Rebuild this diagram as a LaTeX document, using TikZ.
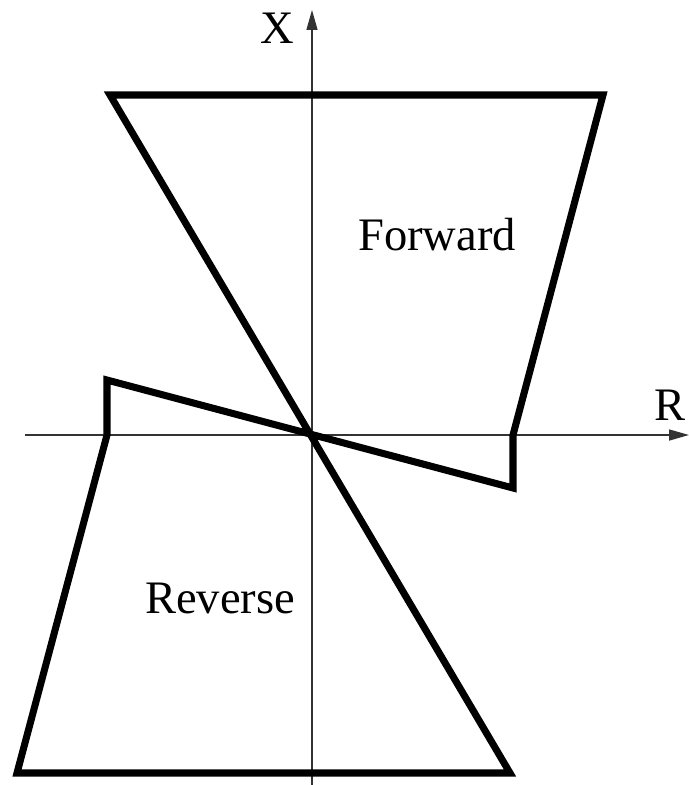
\documentclass[tikz,border=0pt]{standalone}
\usepackage{fontspec}
\setmainfont{Liberation Serif}
\usetikzlibrary{arrows.meta}
\tikzset{
  axisline/.style={line width=0.85pt, black!80, -{Triangle[length=0.4cm, width=0.22cm]}},
  regionline/.style={line width=4pt, black},
  regionlabel/.style={font=\fontsize{26.5}{30}\selectfont, inner sep=0pt},
}
\begin{document}
\begin{tikzpicture}[x=0.02cm, y=-0.02cm]
    \useasboundingbox (0,0) rectangle (689,785);

    % Axes
    \coordinate (origin) at (312,435);
    \coordinate (xbot)   at (312,785);
    \coordinate (xtop)   at (312,10);
    \coordinate (rleft)  at (25,435);
    \coordinate (rright) at (689,435);
    \draw[axisline] (xbot)  -- (xtop);
    \draw[axisline] (rleft) -- (rright);
    \node[regionlabel] (xlabel) at (277,28)  {X};
    \node[regionlabel] (rlabel) at (670,405) {R};

    % Corners of the outline
    \coordinate (topleft)  at (110,95);
    \coordinate (topright) at (603,95);
    \coordinate (fwdaxis)  at (513,435);
    \coordinate (fwdlow)   at (513,488);
    \coordinate (revhigh)  at (107,380);
    \coordinate (revaxis)  at (107,435);
    \coordinate (botleft)  at (17,773);
    \coordinate (botright) at (510,773);

    % Forward and reverse regions, one closed outline through the origin
    \draw[regionline] (topleft) -- (topright) -- (fwdaxis) -- (fwdlow)
        -- (revhigh) -- (revaxis) -- (botleft) -- (botright) -- cycle;

    \node[regionlabel] (forward) at (437,235) {Forward};
    \node[regionlabel] (reverse) at (220,598) {Reverse};
\end{tikzpicture}
\end{document}
